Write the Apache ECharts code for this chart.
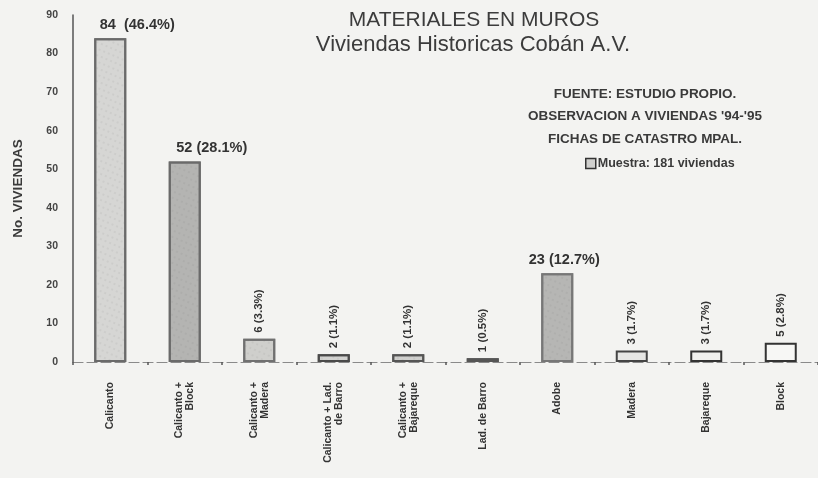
<!DOCTYPE html>
<html><head><meta charset="utf-8">
<script src="https://cdn.jsdelivr.net/npm/echarts@6/dist/echarts.min.js"></script>
<style>html,body{margin:0;padding:0;background:#f3f3f1}#c{width:818px;height:478px}</style>
</head><body><div id="c"></div>
<script>
const categories = ['Calicanto', 'Calicanto +\nBlock', 'Calicanto +\nMadera', 'Calicanto + Lad.\nde Barro', 'Calicanto +\nBajareque', 'Lad. de Barro', 'Adobe', 'Madera', 'Bajareque', 'Block'];
const counts = [84, 52, 6, 2, 2, 1, 23, 3, 3, 5];
const percents = ['46.4%', '28.1%', '3.3%', '1.1%', '1.1%', '0.5%', '12.7%', '1.7%', '1.7%', '2.8%'];
const yTicks = [0, 10, 20, 30, 40, 50, 60, 70, 80, 90];
const fills = ['#d6d6d4', '#b4b4b2', '#cfcfcc', '#d2d2d0', '#d0d0ce', '#d4d4d2', '#b6b6b4', '#e6e6e4', '#f0f0ee', '#f7f7f5'];
const borders = ['#6a6a6a', '#6a6a6a', '#707070', '#4a4a4a', '#555', '#555', '#777', '#444', '#333', '#333'];

const FONT = '"Liberation Sans", Arial, sans-serif';
const chart = echarts.init(document.getElementById('c'));

const data = counts.map((v, i) => {
  const horizontal = v >= 20;
  const sep = i === 0 ? '  ' : ' ';
  const lab = horizontal ? {
    show: true, position: 'top', distance: 6, rotate: 0,
    offset: i === 6 ? [7, 0] : [27, 0],
    fontSize: 14.5, fontWeight: 'bold', color: '#333', fontFamily: FONT,
    formatter: () => v + sep + '(' + percents[i] + ')'
  } : {
    show: true, position: 'top', distance: 6, rotate: 90,
    align: 'left', verticalAlign: 'middle',
    fontSize: 11.5, fontWeight: 'bold', color: '#333', fontFamily: FONT,
    formatter: () => v + ' (' + percents[i] + ')'
  };
  const style = { color: fills[i], borderColor: borders[i], borderWidth: 2 };
  if (i < 7) {
    style.decal = { symbol: 'rect', symbolSize: 0.6, dashArrayX: [2, 3], dashArrayY: [2, 4], rotation: 0.4, color: 'rgba(90,90,90,0.25)' };
  }
  return { value: v, itemStyle: style, label: lab };
});

chart.setOption({
  backgroundColor: '#f3f3f1',
  animation: false,
  title: [
    { text: 'MATERIALES EN MUROS', left: 469, top: 5, textAlign: 'center',
      textStyle: { fontSize: 21, fontWeight: 'normal', color: '#3c3c3c', fontFamily: FONT } },
    { text: 'Viviendas Historicas Cobán A.V.', left: 468, top: 29, textAlign: 'center',
      textStyle: { fontSize: 22, fontWeight: 'normal', color: '#3c3c3c', fontFamily: FONT } },
    { text: 'FUENTE: ESTUDIO PROPIO.\nOBSERVACION A VIVIENDAS \'94-\'95\nFICHAS DE CATASTRO MPAL.',
      left: 640, top: 78, textAlign: 'center',
      textStyle: { fontSize: 13.5, fontWeight: 'bold', color: '#3a3a3a', fontFamily: FONT, lineHeight: 22.5, align: 'center' } }
  ],
  legend: {
    left: 580, top: 152, itemWidth: 10, itemHeight: 10, itemGap: 2,
    icon: 'rect',
    textStyle: { fontSize: 12.5, fontWeight: 'bold', color: '#3a3a3a', fontFamily: FONT, padding: [0, 0, 0, -3] },
    data: [{ name: 'Muestra: 181 viviendas', itemStyle: { color: '#cfcfcd', borderColor: '#333', borderWidth: 1.5 } }]
  },
  grid: { left: 73, top: 15, width: 756, bottom: 116, containLabel: false },
  xAxis: {
    type: 'category', data: categories,
    axisLine: { show: true, lineStyle: { color: '#8a8a8a', width: 1.2, type: [10, 4] } },
    axisTick: { show: true, length: 3, lineStyle: { color: '#555', width: 1.5 } },
    axisLabel: { rotate: 90, margin: 20, fontSize: 10.5, fontWeight: 'bold', color: '#333', fontFamily: FONT, lineHeight: 11, interval: 0 }
  },
  yAxis: {
    type: 'value', min: 0, max: 90, interval: 10,
    name: 'No. VIVIENDAS', nameLocation: 'middle', nameGap: 48, nameRotate: 90,
    nameTextStyle: { fontSize: 13.5, fontWeight: 'bold', color: '#3a3a3a', fontFamily: FONT },
    splitLine: { show: false },
    axisLine: { show: true, lineStyle: { color: '#555', width: 1.5 } },
    axisTick: { show: false },
    axisLabel: { margin: 15, fontSize: 10.5, fontWeight: 'bold', color: '#444', fontFamily: FONT,
      formatter: v => yTicks.includes(v) ? String(v) : '' }
  },
  series: [{
    name: 'Muestra: 181 viviendas', type: 'bar', barWidth: 32, data: data
  }]
});
</script></body></html>
